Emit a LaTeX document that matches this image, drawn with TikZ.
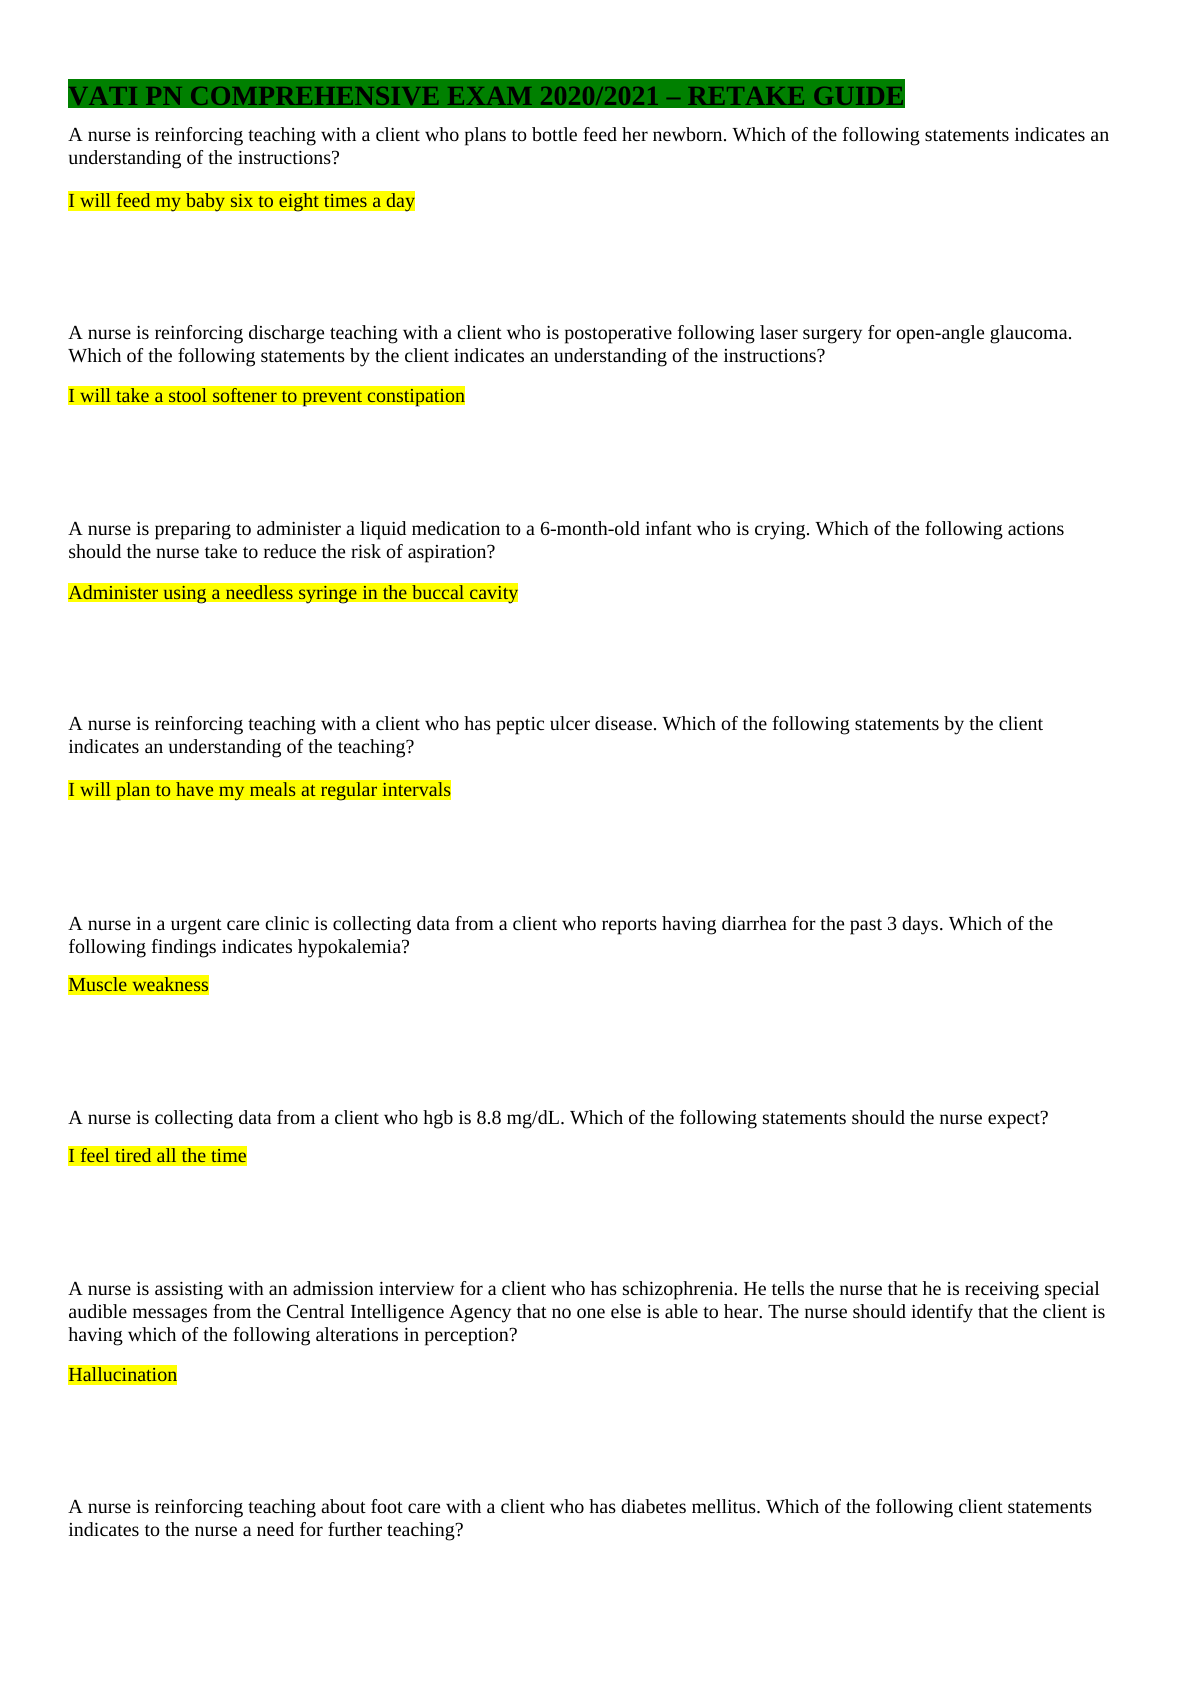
\documentclass[tikz,border=0pt]{standalone}
\usepackage{fontspec}
\setmainfont[Kerning=Off]{Liberation Serif}
\definecolor{hlyellow}{RGB}{255,255,0}
\definecolor{hlgreen}{RGB}{0,128,0}
\tikzset{
  qline/.style={anchor=base west, inner sep=0pt, font=\fontsize{10}{11.5}\selectfont},
  answer/.style={qline, fill=hlyellow, text height=8.25pt, text depth=1.5pt},
  titlebox/.style={anchor=base west, inner sep=0pt, fill=hlgreen,
    font=\fontsize{14}{16}\selectfont\bfseries, text height=13pt, text depth=1.2pt},
}
\frenchspacing
\begin{document}
\begin{tikzpicture}[x=0.5pt,y=-0.5pt]
\useasboundingbox (0,0) rectangle (1191,1684);
\fill[white] (0,0) rectangle (1191,1684);
\node[titlebox] (title) at (68,105.3) {VATI PN COMPREHENSIVE EXAM 2020/2021 – RETAKE GUIDE};
% Q1
\node[qline] (q1a) at (68,141.5) {A nurse is reinforcing teaching with a client who plans to bottle feed her newborn. Which of the following statements indicates an};
\node[qline] (q1b) at (68,164.5) {understanding of the instructions?};
\node[answer] (a1) at (68,208) {I will feed my baby six to eight times a day};
% Q2
\node[qline] (q2a) at (68,340) {A nurse is reinforcing discharge teaching with a client who is postoperative following laser surgery for open-angle glaucoma.};
\node[qline] (q2b) at (68,363) {Which of the following statements by the client indicates an understanding of the instructions?};
\node[answer] (a2) at (68,402.5) {I will take a stool softener to prevent constipation};
% Q3
\node[qline] (q3a) at (68,535) {A nurse is preparing to administer a liquid medication to a 6-month-old infant who is crying. Which of the following actions};
\node[qline] (q3b) at (68,558) {should the nurse take to reduce the risk of aspiration?};
\node[answer] (a3) at (68,599) {Administer using a needless syringe in the buccal cavity};
% Q4
\node[qline] (q4a) at (68,730) {A nurse is reinforcing teaching with a client who has peptic ulcer disease. Which of the following statements by the client};
\node[qline] (q4b) at (68,753) {indicates an understanding of the teaching?};
\node[answer] (a4) at (68,796.5) {I will plan to have my meals at regular intervals};
% Q5
\node[qline] (q5a) at (68,930) {A nurse in a urgent care clinic is collecting data from a client who reports having diarrhea for the past 3 days. Which of the};
\node[qline] (q5b) at (68,953) {following findings indicates hypokalemia?};
\node[answer] (a5) at (68,991.5) {Muscle weakness};
% Q6
\node[qline] (q6a) at (68,1124) {A nurse is collecting data from a client who hgb is 8.8 mg/dL. Which of the following statements should the nurse expect?};
\node[answer] (a6) at (68,1162.5) {I feel tired all the time};
% Q7
\node[qline] (q7a) at (68,1295) {A nurse is assisting with an admission interview for a client who has schizophrenia. He tells the nurse that he is receiving special};
\node[qline] (q7b) at (68,1318) {audible messages from the Central Intelligence Agency that no one else is able to hear. The nurse should identify that the client is};
\node[qline] (q7c) at (68,1341) {having which of the following alterations in perception?};
\node[answer] (a7) at (68,1381.5) {Hallucination};
% Q8
\node[qline] (q8a) at (68,1513.5) {A nurse is reinforcing teaching about foot care with a client who has diabetes mellitus. Which of the following client statements};
\node[qline] (q8b) at (68,1536.5) {indicates to the nurse a need for further teaching?};
\end{tikzpicture}
\end{document}
